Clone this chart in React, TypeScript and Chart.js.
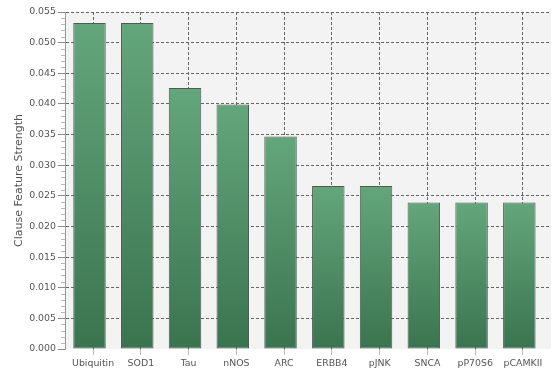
import React, { useEffect, useRef } from "react";
import { Chart, registerables } from "chart.js";

Chart.register(...registerables);

const categories = ["Ubiquitin", "SOD1", "Tau", "nNOS", "ARC", "ERBB4", "pJNK", "SNCA", "pP70S6", "pCAMKII"];
const strengths = [0.0532, 0.0532, 0.0426, 0.0399, 0.0347, 0.0266, 0.0266, 0.0239, 0.0239, 0.0239];
const yTickValues = [0, 0.005, 0.01, 0.015, 0.02, 0.025, 0.03, 0.035, 0.04, 0.045, 0.05, 0.055];
const yMinorCount = 55;
const yMinorStep = 0.001;
const yAxisTitle = "Clause Feature Strength";

const xMin = -0.588;
const xMax = 9.588;
const barShift = 0.075;

const plotBackground = {
  id: "plotBackground",
  beforeDraw(chart: any) {
    const { ctx, chartArea: a } = chart;
    ctx.save();
    ctx.fillStyle = "#f3f3f3";
    ctx.fillRect(a.left, a.top, a.right - a.left, a.bottom - a.top);
    ctx.restore();
  },
};

const minorTicks = {
  id: "minorTicks",
  afterDraw(chart: any) {
    const { ctx } = chart;
    const y = chart.scales.y;
    ctx.save();
    ctx.strokeStyle = "#b8b8b8";
    ctx.lineWidth = 1;
    for (let i = 0; i <= yMinorCount; i++) {
      if (i % 5 === 0) continue;
      const py = Math.round(y.getPixelForValue(i * yMinorStep)) + 0.5;
      ctx.beginPath();
      ctx.moveTo(y.right - 4, py);
      ctx.lineTo(y.right, py);
      ctx.stroke();
    }
    ctx.restore();
  },
};

export default function App() {
  const ref = useRef<HTMLCanvasElement | null>(null);

  useEffect(() => {
    document.body.style.margin = "0";
    const canvas = ref.current;
    if (!canvas) return;
    Chart.defaults.font.family = "'DejaVu Sans', sans-serif";

    const chart = new Chart(canvas, {
      type: "bar",
      data: {
        datasets: [
          {
            xAxisID: "xBars",
            yAxisID: "y",
            data: strengths.map((v, i) => ({ x: i, y: v })),
            backgroundColor: (c: any) => {
              const ch = c.chart;
              const a = ch.chartArea;
              if (!a || c.type !== "data" || !c.parsed) return "#4f8d65";
              const top = ch.scales.y.getPixelForValue(c.parsed.y);
              const g = ch.ctx.createLinearGradient(0, top, 0, a.bottom);
              g.addColorStop(0, "#64a67c");
              g.addColorStop(1, "#3a744f");
              return g;
            },
            borderColor: "#505a52",
            borderWidth: 1,
            borderSkipped: false,
            categoryPercentage: 1,
            barPercentage: 0.68,
          } as any,
        ],
      },
      options: {
        responsive: false,
        animation: false,
        devicePixelRatio: 1,
        layout: { padding: { top: 12, right: 4, left: 0, bottom: 0 } },
        plugins: {
          legend: { display: false },
          tooltip: { enabled: false },
          title: { display: false },
        },
        scales: {
          x: {
            type: "linear",
            position: "bottom",
            min: xMin,
            max: xMax,
            offset: false,
            afterBuildTicks: (s: any) => {
              s.ticks = categories.map((_, i) => ({ value: i }));
            },
            afterFit: (s: any) => {
              s.height = 26;
            },
            ticks: {
              autoSkip: false,
              maxRotation: 0,
              minRotation: 0,
              padding: 3,
              color: "#555555",
              font: { size: 9.4 },
              callback: (_v: any, i: number) => categories[i],
            },
            grid: {
              offset: false,
              color: "#666666",
              lineWidth: 1,
              tickLength: 6,
              tickColor: "#b8b8b8",
            },
            border: { display: false, dash: [3, 2] },
          } as any,
          xBars: {
            type: "linear",
            position: "bottom",
            display: false,
            min: xMin + barShift,
            max: xMax + barShift,
            offset: false,
            grid: { offset: false, display: false },
          } as any,
          y: {
            type: "linear",
            min: 0,
            max: 0.055,
            afterBuildTicks: (s: any) => {
              s.ticks = yTickValues.map((v) => ({ value: v }));
            },
            afterFit: (s: any) => {
              s.width = 65;
            },
            ticks: {
              autoSkip: false,
              padding: 2,
              color: "#555555",
              font: { size: 9.4 },
              callback: (v: any) => Number(v).toFixed(3),
            },
            grid: {
              color: (c: any) => (c.tick && c.tick.value === 0 ? "rgba(0,0,0,0)" : "#666666"),
              lineWidth: 1,
              tickLength: 7,
              tickColor: "#8a8a8a",
            },
            border: { display: true, color: "#9a9a9a", width: 1, dash: [3, 2] },
            title: {
              display: true,
              text: yAxisTitle,
              color: "#555555",
              font: { size: 11 },
              padding: { top: 13, bottom: 0 },
            },
          } as any,
        },
      },
      plugins: [plotBackground, minorTicks],
    });

    return () => chart.destroy();
  }, []);

  return (
    <div style={{ width: 555, height: 375 }}>
      <canvas ref={ref} width={555} height={375} style={{ display: "block" }} />
    </div>
  );
}
